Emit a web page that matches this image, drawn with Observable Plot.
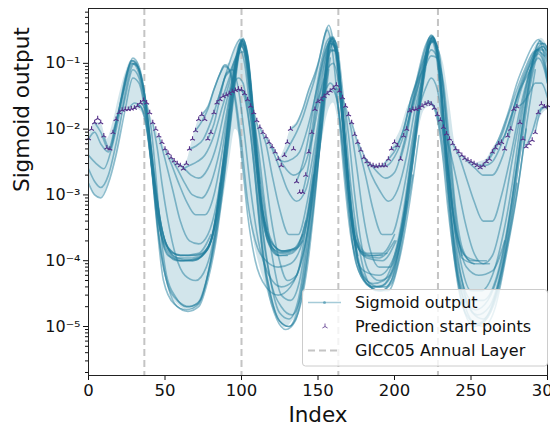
<!DOCTYPE html>
<html><head><meta charset="utf-8">
<script src="https://cdn.jsdelivr.net/npm/d3@7"></script>
<script src="https://cdn.jsdelivr.net/npm/@observablehq/plot@0.6"></script>
<style>html,body{margin:0;padding:0;background:#fff;} #chart{width:550px;height:425px;overflow:hidden;}</style>
</head><body><div id="chart"></div>
<script>
// ---- data ----
const xTicks = [0, 50, 100, 150, 200, 250, 300];
const yMajor = [1e-5, 1e-4, 1e-3, 1e-2, 1e-1];
const yMajorLabels = ["10⁻⁵", "10⁻⁴", "10⁻³", "10⁻²", "10⁻¹"];
const layerIdx = [36.5, 100, 163.3, 228.4]; // GICC05 annual layers
const startStep = 2; // prediction start points every 2 indices from 0
const startValues = [0.0072,0.01,0.0126,0.0145,0.0126,0.0079,0.0052,0.005,0.0089,0.0141,
0.0178,0.0195,0.02,0.02,0.0204,0.0209,0.0224,0.0251,0.0275,0.0251,
0.0178,0.0126,0.01,0.0079,0.0063,0.005,0.0043,0.0037,0.0033,0.003,
0.0028,0.0025,0.003,0.005,0.0071,0.0095,0.0141,0.0166,0.0141,0.0071,
0.0089,0.0178,0.0251,0.0282,0.0316,0.0331,0.0347,0.0372,0.0389,0.0407,
0.0398,0.0347,0.0282,0.0224,0.0178,0.0135,0.0107,0.0089,0.0076,0.0063,
0.0054,0.0045,0.0035,0.0028,0.004,0.0063,0.01,0.005,0.0016,0.0011,
0.0011,0.002,0.0045,0.0089,0.02,0.0263,0.0282,0.0316,0.0347,0.038,
0.0417,0.0468,0.038,0.0302,0.0224,0.0166,0.0126,0.0083,0.0063,0.0048,
0.0037,0.0032,0.0029,0.0028,0.0027,0.0028,0.0028,0.0028,0.0035,0.005,
0.0063,0.0056,0.0035,0.0079,0.01,0.019,0.02,0.02,0.0209,0.0224,
0.024,0.0251,0.024,0.0209,0.0166,0.0138,0.0107,0.0085,0.0071,0.006,
0.005,0.0045,0.004,0.0036,0.0034,0.0032,0.003,0.0028,0.0026,0.0028,
0.0032,0.0035,0.0045,0.0052,0.006,0.0063,0.005,0.0079,0.01,0.02,
0.0219,0.0126,0.0071,0.0054,0.006,0.0068,0.0089,0.0178,0.024,0.0219,
0.0229];

// pale band of overlapping outputs (every 4 indices from 0)
const envStep = 4;
const envLow = [1.6e-3,1e-3,9e-4,1.3e-3,2.5e-3,6e-3,2e-2,2e-2,2e-2,1.6e-2,
4e-3,5e-4,1e-4,4e-5,2.5e-5,2e-5,1.8e-5,1.8e-5,2e-5,3.5e-5,
8e-5,2.5e-4,8e-4,3e-3,1e-2,6e-3,8e-4,2e-4,8e-5,4e-5,
2e-5,1.3e-5,9.5e-6,1.1e-5,1.6e-5,4e-5,2e-4,1e-3,5e-3,1.6e-2,
2.5e-2,1e-2,1.6e-3,3e-4,1e-4,5.6e-5,4.2e-5,3.8e-5,3.8e-5,4e-5,
6.3e-5,1.6e-4,6.3e-4,2.5e-3,1e-2,2e-2,2.2e-2,1.3e-2,3e-3,5e-4,
8e-5,2.5e-5,1.4e-5,1.05e-5,1e-5,1.2e-5,1.8e-5,3.2e-5,8e-5,4e-4,
1.3e-3,5e-3,6.3e-3,1e-2,1.6e-2,2e-2];
const envHigh = [7.2e-3,1.26e-2,1.26e-2,7e-3,1.26e-2,3.2e-2,7e-2,1.1e-1,1.05e-1,5e-2,
1.8e-2,1e-2,6.3e-3,4.3e-3,3.3e-3,2.8e-3,3.2e-3,7e-3,1.4e-2,1.8e-2,
2.5e-2,5e-2,9e-2,1e-1,1.6e-1,2.5e-1,1.3e-1,1.8e-2,1.07e-2,7.6e-3,
5.4e-3,3.5e-3,5e-3,1e-2,1.26e-2,2e-2,4e-2,7e-2,1.26e-1,3.5e-1,
2.4e-1,8e-2,2.2e-2,1.26e-2,6.3e-3,3.7e-3,3e-3,2.8e-3,2.8e-3,3.5e-3,
6.3e-3,1e-2,2e-2,3.2e-2,7e-2,1.6e-1,2.7e-1,1.8e-1,1e-1,2.5e-2,
5.6e-3,4e-3,3.4e-3,3e-3,3.2e-3,3.5e-3,5e-3,7e-3,1.26e-2,2e-2,
3.5e-2,6.3e-2,1.1e-1,1.8e-1,2.4e-1,1.8e-1];

// individual sigmoid-output predictions: [index, value] knots
const curvesP0 = [
[[0,7e-3],[4,9e-3],[8,6e-3],[13,4.5e-3],[18,1.2e-2],[23,4e-2],[28,1.1e-1],[31,1e-1],[35,5e-2],[39,1.2e-2],[43,2e-3],[47,4e-4],[52,1.6e-4],[60,1.2e-4],[70,1.2e-4],[78,1.6e-4],[84,5e-4],[89,4e-3]],
[[0,4e-3],[5,3e-3],[10,2.5e-3],[15,5e-3],[20,1.6e-2],[25,6e-2],[29,1e-1],[33,7e-2],[37,2.5e-2],[41,4e-3],[45,7e-4],[50,2e-4],[58,1.1e-4],[68,1.1e-4],[77,1.4e-4],[83,4e-4],[88,3e-3]],
[[0,2.5e-3],[4,1.6e-3],[8,1.3e-3],[13,2e-3],[18,6e-3],[24,3e-2],[29,8e-2],[33,6e-2],[37,2e-2],[41,3e-3],[45,5e-4],[51,1.5e-4],[60,1e-4],[70,1.05e-4],[80,2e-4],[86,1.5e-3]],
[[0,1.5e-3],[4,1e-3],[8,9e-4],[13,1.5e-3],[18,4e-3],[24,2e-2],[29,6e-2],[33,5e-2],[37,1.8e-2],[41,3e-3],[45,5e-4],[50,1.8e-4],[60,1.2e-4],[72,1.3e-4],[80,2.5e-4]],
[[4,1.26e-2],[8,9e-3],[13,5e-3],[18,1.3e-2],[23,4e-2],[28,1e-1],[32,9e-2],[36,4e-2],[40,8e-3],[44,1.2e-3],[48,3e-4],[55,1.3e-4],[65,1.2e-4],[75,1.3e-4],[82,3e-4],[87,2e-3],[92,2e-2]],
[[10,7.9e-3],[14,5e-3],[19,1.5e-2],[24,6e-2],[29,1.1e-1],[33,8e-2],[37,3e-2],[41,5e-3],[45,8e-4],[50,2e-4],[58,1.1e-4],[68,1e-4],[78,1.5e-4],[84,5e-4],[89,4e-3],[94,4e-2],[98,1.5e-1]],
[[16,8.9e-3],[20,2e-2],[25,7e-2],[29,1.2e-1],[33,9e-2],[37,3e-2],[41,4e-3],[45,6e-4],[50,1.5e-4],[58,1e-4],[68,1e-4],[78,1.6e-4],[84,6e-4],[89,5e-3],[94,5e-2],[99,2e-1],[102,1.5e-1]],
[[22,1.95e-2],[26,6e-2],[30,1e-1],[34,7e-2],[38,2e-2],[42,2.5e-3],[46,4e-4],[52,1.2e-4],[62,1e-4],[72,1.1e-4],[80,2e-4],[86,1.2e-3],[91,1e-2],[96,9e-2],[100,2.3e-1],[103,1.3e-1],[107,1.5e-2]]
];
const curvesP1 = [
[[26,2e-2],[30,2.5e-2],[34,2.2e-2],[38,1e-2],[42,2e-3],[46,2.5e-4],[51,5e-5],[58,2.5e-5],[66,2e-5],[73,2.5e-5],[79,8e-5],[84,4e-4],[89,3e-3],[94,3e-2],[98,1.5e-1],[101,2.4e-1],[104,1.2e-1],[108,1.2e-2]],
[[30,2.1e-2],[33,2.3e-2],[37,1.5e-2],[41,3e-3],[45,3e-4],[49,5e-5],[56,2.2e-5],[64,1.8e-5],[72,2.2e-5],[78,6e-5],[84,3e-4],[89,2.5e-3],[94,2.5e-2],[98,1.3e-1],[101,2.3e-1],[104,1.3e-1],[108,1.5e-2],[112,1.5e-3]],
[[34,2.5e-2],[37,2e-2],[40,6e-3],[43,1e-3],[47,1.5e-4],[52,4e-5],[58,2e-5],[65,1.7e-5],[72,2e-5],[78,5e-5],[84,2.5e-4],[89,2e-3],[94,2e-2],[98,1.2e-1],[101,2.3e-1],[104,1.4e-1],[108,1.8e-2],[112,2e-3],[117,3e-4]],
[[38,2.5e-2],[41,1e-2],[44,2e-3],[47,3e-4],[51,6e-5],[57,2.8e-5],[64,2e-5],[71,2.2e-5],[77,5e-5],[83,2.5e-4],[88,1.5e-3],[93,1.5e-2],[97,1e-1],[100,2.2e-1],[104,1.3e-1],[108,1.5e-2],[112,1.5e-3],[117,2.5e-4],[124,1.2e-4]],
[[42,1.26e-2],[45,5e-3],[48,1.5e-3],[52,4e-4],[57,1.2e-4],[63,6e-5],[70,5e-5],[77,8e-5],[83,3e-4],[88,2e-3],[93,2e-2],[97,1e-1],[100,2e-1],[104,1.1e-1],[108,1.2e-2],[112,1.2e-3],[117,2e-4],[124,1.2e-4],[130,1.2e-4]],
[[46,7.9e-3],[50,3.5e-3],[55,1.2e-3],[60,4e-4],[66,2e-4],[72,1.8e-4],[78,2.5e-4],[84,8e-4],[89,5e-3],[94,4e-2],[98,1.5e-1],[101,2.2e-1],[105,8e-2],[109,7e-3],[113,8e-4],[118,2e-4],[125,1.3e-4],[132,1.4e-4]],
[[50,5e-3],[54,3e-3],[59,1.5e-3],[64,8e-4],[70,5e-4],[76,5e-4],[82,1e-3],[87,4e-3],[92,2.5e-2],[97,1.2e-1],[101,2e-1],[105,7e-2],[109,6e-3],[113,6e-4],[118,1.8e-4],[125,1.2e-4],[133,1.3e-4],[140,2e-4]],
[[54,3.7e-3],[58,2.5e-3],[63,1.5e-3],[68,1e-3],[74,9e-4],[80,1.5e-3],[86,5e-3],[92,3e-2],[97,1.3e-1],[100,2.2e-1],[104,1e-1],[108,1e-2],[112,1e-3],[118,2.5e-4],[126,1.4e-4],[134,1.5e-4],[140,2.5e-4]],
[[58,3e-3],[62,2.6e-3],[67,2e-3],[72,1.8e-3],[78,2.5e-3],[84,6e-3],[89,2e-2],[94,6e-2],[98,1.5e-1],[101,1.9e-1],[105,6e-2],[109,5e-3],[114,5e-4],[120,1.8e-4],[128,1.4e-4],[136,1.6e-4],[142,4e-4]],
[[62,2.5e-3],[66,2.8e-3],[71,3.2e-3],[76,4e-3],[82,8e-3],[87,2e-2],[92,5e-2],[96,1.1e-1],[100,1.8e-1],[104,8e-2],[108,8e-3],[113,7e-4],[119,2e-4],[127,1.4e-4],[135,1.5e-4],[142,4e-4],[147,2e-3]],
[[66,5e-3],[70,5.5e-3],[75,7e-3],[80,1.3e-2],[85,3e-2],[89,6e-2],[93,8e-2],[97,1.3e-1],[101,1.5e-1],[105,4e-2],[109,4e-3],[114,4e-4],[121,1.5e-4],[129,1.3e-4],[137,1.6e-4],[144,6e-4],[149,4e-3]],
[[70,9.5e-3],[74,1.3e-2],[78,2e-2],[82,4e-2],[86,7e-2],[89,9e-2],[92,8e-2],[96,3e-2],[100,6e-3],[104,8e-4],[109,2e-4],[116,1e-4],[124,8e-5],[132,9e-5],[140,2e-4],[147,1.5e-3],[152,1.2e-2]],
[[74,1.66e-2],[78,2.2e-2],[82,4e-2],[86,7e-2],[89,9.5e-2],[92,8e-2],[96,2.5e-2],[100,4e-3],[104,5e-4],[109,1e-4],[116,4e-5],[124,3e-5],[132,4e-5],[140,1.2e-4],[147,1e-3],[153,1.2e-2],[157,8e-2]],
[[78,7.1e-3],[82,1.2e-2],[86,3e-2],[90,7e-2],[94,8e-2],[98,4e-2],[102,8e-3],[106,1.2e-3],[111,2e-4],[118,6e-5],[126,4e-5],[134,5e-5],[142,2e-4],[148,2e-3],[154,3e-2],[158,1.2e-1]]
];
const curvesP2 = [
[[84,2.5e-2],[88,5e-2],[92,1e-1],[96,1.8e-1],[99,2.3e-1],[102,1.5e-1],[106,3e-2],[110,2.5e-3],[114,2.5e-4],[119,5e-5],[126,2e-5],[133,1.5e-5],[140,4e-5],[146,4e-4],[152,8e-3],[157,1.2e-1],[160,2e-1],[164,5e-2]],
[[88,3.2e-2],[92,6e-2],[96,1.2e-1],[99,1.6e-1],[102,1e-1],[106,1.5e-2],[110,1.5e-3],[114,1.5e-4],[119,3e-5],[125,1.2e-5],[131,1e-5],[137,1.6e-5],[143,8e-5],[149,1.5e-3],[154,3e-2],[158,1.6e-1],[162,1.5e-1],[166,1.5e-2]],
[[92,3.5e-2],[95,5e-2],[98,6e-2],[101,5e-2],[104,2e-2],[108,3e-3],[112,3e-4],[117,4e-5],[123,1.3e-5],[129,9e-6],[135,1.2e-5],[141,5e-5],[147,7e-4],[153,1.5e-2],[158,1.5e-1],[162,1.6e-1],[166,2e-2],[170,1.5e-3]],
[[96,3.9e-2],[99,4e-2],[102,3e-2],[106,8e-3],[110,1e-3],[114,1.2e-4],[119,3e-5],[125,1.2e-5],[131,1e-5],[137,2e-5],[143,1.5e-4],[149,3e-3],[154,4e-2],[158,2e-1],[162,1.5e-1],[166,1.5e-2],[170,1.2e-3]],
[[100,4e-2],[103,3e-2],[106,1.5e-2],[110,2.5e-3],[114,3e-4],[119,5e-5],[125,1.6e-5],[131,1.3e-5],[137,2.5e-5],[143,2e-4],[149,4e-3],[154,5e-2],[158,2.2e-1],[162,1.5e-1],[166,1.2e-2],[170,1e-3],[175,1.5e-4]],
[[104,2.8e-2],[107,1.8e-2],[111,5e-3],[115,8e-4],[120,1.2e-4],[126,3e-5],[132,2.5e-5],[138,5e-5],[144,4e-4],[150,6e-3],[155,7e-2],[159,2.3e-1],[163,1e-1],[167,8e-3],[171,6e-4],[176,1.2e-4]],
[[108,1.8e-2],[111,1e-2],[115,2.5e-3],[119,5e-4],[124,1.2e-4],[130,5e-5],[136,6e-5],[142,3e-4],[148,3e-3],[153,3e-2],[157,1.5e-1],[161,2.2e-1],[165,4e-2],[169,2e-3],[174,2e-4],[181,1.2e-4]],
[[112,1.07e-2],[116,6e-3],[120,2e-3],[125,6e-4],[131,2.5e-4],[137,2.5e-4],[143,8e-4],[149,6e-3],[154,5e-2],[158,2e-1],[162,1.8e-1],[166,2e-2],[170,1.5e-3],[175,2e-4],[183,1.2e-4],[192,1.2e-4]],
[[116,7.6e-3],[120,5e-3],[125,2.5e-3],[130,1.2e-3],[136,8e-4],[142,1.2e-3],[148,6e-3],[153,4e-2],[157,1.8e-1],[160,2.4e-1],[164,7e-2],[168,5e-3],[172,4e-4],[178,1.4e-4],[186,1.2e-4],[195,1.3e-4]],
[[120,5.4e-3],[124,3.8e-3],[129,2.5e-3],[134,2e-3],[140,2.5e-3],[146,7e-3],[151,3e-2],[155,1.2e-1],[158,2.4e-1],[162,1.5e-1],[166,2e-2],[170,1.5e-3],[175,2.5e-4],[182,1.3e-4],[192,1.3e-4],[200,2.5e-4]],
[[124,3.5e-3],[128,3.2e-3],[133,3.5e-3],[138,4.5e-3],[143,1e-2],[148,3e-2],[152,8e-2],[155,1.6e-1],[158,2.2e-1],[162,1.4e-1],[166,1.5e-2],[170,1.2e-3],[175,2e-4],[182,1.1e-4],[192,1e-4],[201,2e-4]],
[[128,4e-3],[132,6e-3],[136,9e-3],[140,1.5e-2],[144,3e-2],[148,6e-2],[152,1.5e-1],[155,3e-1],[157,3.8e-1],[160,2.2e-1],[164,4e-2],[168,3e-3],[173,3e-4],[180,1.2e-4],[190,1.1e-4],[200,2e-4]],
[[132,1e-2],[136,1.2e-2],[140,2e-2],[144,4e-2],[148,7e-2],[151,1.2e-1],[154,2.5e-1],[156,3.2e-1],[159,1.8e-1],[163,2.5e-2],[167,2e-3],[172,2e-4],[180,7e-5],[190,6e-5],[200,1.2e-4],[208,8e-4]],
[[136,1.6e-3],[140,3e-3],[144,8e-3],[148,3e-2],[152,1e-1],[156,2.2e-1],[159,2.5e-1],[162,1.5e-1],[166,2e-2],[170,1.5e-3],[175,1.5e-4],[182,5e-5],[190,4e-5],[198,6e-5],[205,2.5e-4],[212,2e-3]],
[[140,1.1e-3],[144,3e-3],[148,1.5e-2],[152,6e-2],[156,1.6e-1],[159,2.4e-1],[162,2e-1],[166,4e-2],[170,3e-3],[175,3e-4],[181,6e-5],[188,3.5e-5],[196,3.5e-5],[203,1e-4],[210,8e-4],[216,8e-3]]
];
const curvesP3 = [
[[144,4.5e-3],[148,2e-2],[152,8e-2],[156,1.8e-1],[160,2.5e-1],[164,8e-2],[168,5e-3],[172,4e-4],[177,8e-5],[184,4e-5],[191,3.5e-5],[198,4.5e-5],[205,2e-4],[211,2e-3],[217,2.5e-2],[222,1.5e-1]],
[[148,2e-2],[152,4e-2],[156,8e-2],[160,1e-1],[164,4e-2],[168,4e-3],[172,4e-4],[177,8e-5],[184,4e-5],[191,3.5e-5],[198,5e-5],[205,3e-4],[211,3e-3],[217,3e-2],[222,1.8e-1],[226,2.2e-1]],
[[152,2.8e-2],[155,4e-2],[158,5e-2],[161,4e-2],[165,1e-2],[169,1e-3],[174,1.2e-4],[180,5e-5],[187,4e-5],[194,4e-5],[201,8e-5],[207,5e-4],[213,5e-3],[219,6e-2],[224,2.4e-1],[228,1.5e-1]],
[[156,3.5e-2],[159,4e-2],[162,3e-2],[165,1e-2],[169,1.2e-3],[173,1.5e-4],[178,6e-5],[185,4e-5],[192,4.2e-5],[199,8e-5],[206,5e-4],[212,5e-3],[218,5e-2],[223,2.2e-1],[227,2e-1],[231,3e-2]],
[[160,4.2e-2],[163,4e-2],[166,1.5e-2],[170,2e-3],[174,2e-4],[179,6e-5],[186,4.5e-5],[193,5e-5],[200,1.2e-4],[206,6e-4],[212,6e-3],[218,6e-2],[223,2.4e-1],[227,2e-1],[231,3e-2],[235,2e-3]],
[[164,3.8e-2],[167,2.5e-2],[170,8e-3],[174,1e-3],[178,2e-4],[183,7e-5],[190,5e-5],[197,6e-5],[204,2e-4],[210,1.5e-3],[216,2e-2],[221,1.2e-1],[225,2.6e-1],[229,1e-1],[233,8e-3],[238,6e-4]],
[[168,2.2e-2],[171,1.2e-2],[175,3e-3],[179,6e-4],[184,1.5e-4],[190,8e-5],[197,8e-5],[204,2.5e-4],[210,2e-3],[216,2e-2],[221,1.2e-1],[225,2.5e-1],[229,1e-1],[233,8e-3],[238,6e-4],[244,1.2e-4]],
[[172,1.26e-2],[176,6e-3],[181,2e-3],[186,6e-4],[192,2.5e-4],[198,2.5e-4],[204,7e-4],[210,4e-3],[216,3e-2],[221,1.3e-1],[225,2.5e-1],[229,8e-2],[233,6e-3],[238,5e-4],[244,1.1e-4],[252,9e-5]],
[[176,6.3e-3],[180,4e-3],[185,2e-3],[190,1.2e-3],[196,8e-4],[202,1.2e-3],[208,4e-3],[213,1.8e-2],[218,6e-2],[222,1.6e-1],[226,2.4e-1],[230,6e-2],[234,4e-3],[239,4e-4],[246,1.2e-4],[254,1e-4]],
[[180,3.7e-3],[184,3e-3],[189,2.2e-3],[194,1.8e-3],[200,2.2e-3],[206,6e-3],[212,2.5e-2],[217,7e-2],[221,1.5e-1],[225,2.2e-1],[229,1.5e-1],[233,2e-2],[237,1.5e-3],[242,2e-4],[250,1e-4],[260,1e-4]],
[[186,2.8e-3],[190,2.7e-3],[195,2.8e-3],[200,3.8e-3],[206,8e-3],[211,2e-2],[216,5e-2],[220,1e-1],[224,1.6e-1],[228,1.2e-1],[232,5e-2],[236,6e-3],[240,6e-4],[245,1.4e-4],[252,9e-5],[262,9e-5]],
[[192,2.8e-3],[196,3.5e-3],[201,5e-3],[206,1e-2],[211,3e-2],[216,6e-2],[220,9e-2],[224,1.3e-1],[228,1.2e-1],[232,4e-2],[236,4e-3],[241,3e-4],[247,8e-5],[255,6e-5],[264,7e-5],[272,2e-4]],
[[198,5e-3],[202,6e-3],[206,1e-2],[211,3e-2],[216,7e-2],[220,1.3e-1],[224,2.5e-1],[228,1.8e-1],[232,3e-2],[236,2e-3],[240,2e-4],[245,4e-5],[251,1.6e-5],[258,1.3e-5],[266,3e-5],[274,2e-4],[280,1.5e-3]]
];
const curvesP4 = [
[[204,3.5e-3],[208,8e-3],[212,2.5e-2],[216,7e-2],[220,1.6e-1],[224,2.7e-1],[228,1.5e-1],[232,1.5e-2],[236,1e-3],[240,1e-4],[245,2.5e-5],[251,1.2e-5],[258,1e-5],[266,2e-5],[273,1.2e-4],[280,1e-3],[286,1e-2]],
[[208,1e-2],[212,3e-2],[216,8e-2],[220,1.8e-1],[224,2.6e-1],[228,1.2e-1],[232,1e-2],[236,7e-4],[241,6e-5],[246,1.6e-5],[252,1e-5],[259,1.2e-5],[267,3e-5],[274,1.8e-4],[281,1.5e-3],[287,1.5e-2],[292,8e-2]],
[[212,2e-2],[216,5e-2],[220,1.2e-1],[224,2.2e-1],[228,1e-1],[232,8e-3],[236,5e-4],[241,5e-5],[247,1.5e-5],[254,1.1e-5],[262,1.6e-5],[270,7e-5],[277,6e-4],[283,6e-3],[289,5e-2],[294,1.6e-1]],
[[216,2.1e-2],[220,4e-2],[224,6e-2],[228,4e-2],[232,8e-3],[236,8e-4],[241,8e-5],[247,2.5e-5],[254,1.5e-5],[262,2e-5],[270,8e-5],[277,8e-4],[283,8e-3],[289,6e-2],[294,1.5e-1],[298,1.3e-1]],
[[220,2.4e-2],[223,2.6e-2],[227,1.8e-2],[231,5e-3],[235,6e-4],[240,8e-5],[246,2.5e-5],[253,1.8e-5],[261,2.5e-5],[269,8e-5],[276,6e-4],[282,6e-3],[288,5e-2],[293,1.6e-1],[297,1.8e-1],[300,1.3e-1]],
[[224,2.4e-2],[227,2e-2],[231,7e-3],[235,1.2e-3],[239,2e-4],[244,5e-5],[251,2.5e-5],[258,2.5e-5],[266,5e-5],[273,2.5e-4],[279,2e-3],[285,2e-2],[291,1.2e-1],[295,2.2e-1],[299,1.6e-1]],
[[228,1.7e-2],[231,1e-2],[235,2.5e-3],[239,4e-4],[244,8e-5],[250,3.5e-5],[257,3.5e-5],[264,6e-5],[271,2.5e-4],[277,1.5e-3],[283,1.5e-2],[289,8e-2],[294,2e-1],[298,2e-1],[300,1.6e-1]],
[[232,1.07e-2],[236,5e-3],[241,1.5e-3],[246,4e-4],[252,1.3e-4],[258,9e-5],[264,1.2e-4],[270,4e-4],[276,2.5e-3],[282,1.5e-2],[288,7e-2],[293,1.6e-1],[297,2e-1],[300,1.7e-1]],
[[238,6e-3],[242,4e-3],[247,1.8e-3],[252,8e-4],[258,4e-4],[264,4e-4],[270,1e-3],[276,4e-3],[282,2e-2],[288,7e-2],[293,1.5e-1],[297,1.8e-1],[300,1.5e-1]],
[[244,4e-3],[248,3.2e-3],[253,2.5e-3],[258,2e-3],[264,2e-3],[270,3.5e-3],[276,1e-2],[282,3.5e-2],[288,9e-2],[293,1.6e-1],[297,1.6e-1],[300,1.2e-1]],
[[250,3.2e-3],[254,2.9e-3],[259,2.8e-3],[264,3.2e-3],[270,6e-3],[276,1.5e-2],[282,4.5e-2],[287,9e-2],[292,1.5e-1],[296,1.7e-1],[300,1e-1]],
[[256,2.6e-3],[260,3.2e-3],[265,5e-3],[270,9e-3],[275,2e-2],[280,5e-2],[285,1e-1],[290,1.8e-1],[294,2.3e-1],[298,1.2e-1],[300,6e-2]],
[[262,3.5e-3],[266,5e-3],[270,8e-3],[275,1.8e-2],[280,4e-2],[285,8e-2],[290,1.4e-1],[294,1.6e-1],[298,1e-1],[300,6e-2]],
[[268,6e-3],[272,8e-3],[276,1.5e-2],[281,3.5e-2],[286,7e-2],[290,1.1e-1],[294,1.4e-1],[298,9e-2],[300,5e-2]],
[[274,7.9e-3],[278,2e-2],[282,4e-2],[286,6e-2],[290,9e-2],[294,1.2e-1],[298,8e-2],[300,5e-2]],
[[280,2.2e-2],[284,2.5e-2],[288,3.5e-2],[292,5e-2],[296,5e-2],[300,3e-2]],
[[286,5.4e-3],[290,9e-3],[294,1.8e-2],[298,2.2e-2],[300,2e-2]],
[[292,8.9e-3],[296,2e-2],[300,2.2e-2]]
];

// ---- build tables ----
const teal = "#1f7d9d";
const purple = "#553088";
const rows = [];
let cid = 0;
for (const group of [curvesP0, curvesP1, curvesP2, curvesP3, curvesP4]) {
  for (const c of group) { for (const [x, y] of c) rows.push({id: cid, x, y}); cid++; }
}
const starts = startValues.map((v, i) => ({x: i * startStep, y: v}));
const env = envLow.map((lo, i) => ({x: i * envStep, lo, hi: envHigh[i]}));

const yMinor = [];
for (const e of [1e-6, 1e-5, 1e-4, 1e-3, 1e-2, 1e-1]) for (let k = 2; k <= 9; k++) {
  const v = k * e; if (v >= 1.8e-6 && v <= 0.68) yMinor.push(v);
}
const triUp = {
  draw(ctx, size) {
    const r = Math.sqrt(size / Math.PI);
    ctx.moveTo(0, 0); ctx.lineTo(0, -r);
    ctx.moveTo(0, 0); ctx.lineTo(-r * 0.866, r * 0.5);
    ctx.moveTo(0, 0); ctx.lineTo(r * 0.866, r * 0.5);
  }
};

const plot = Plot.plot({
  width: 550, height: 425,
  marginLeft: 88, marginRight: 3, marginTop: 8, marginBottom: 50,
  style: {fontFamily: "DejaVu Sans", background: "white", color: "#111"},
  x: {domain: [0, 300]},
  y: {type: "log", domain: [1.8e-6, 0.682]},
  marks: [
    Plot.areaY(env, {x: "x", y1: "lo", y2: "hi", fill: teal, fillOpacity: 0.2, curve: "monotone-x", clip: true}),
    Plot.ruleX(layerIdx, {stroke: "#c4c4c4", strokeWidth: 2, strokeDasharray: "7,4"}),
    Plot.line(rows, {x: "x", y: "y", z: "id", stroke: teal, strokeOpacity: 0.5, strokeWidth: 1.6, curve: "monotone-x", clip: true}),
    Plot.dot(starts, {x: "x", y: "y", symbol: triUp, r: 2.8, stroke: purple, fill: "none", strokeWidth: 1.1}),
    Plot.axisX({ticks: xTicks, tickSize: 5, tickPadding: 4, fontSize: 16.5, label: null}),
    Plot.axisY({ticks: yMinor, tickSize: 3, tickFormat: () => "", label: null}),
    Plot.axisY({ticks: yMajor, tickSize: 5, tickPadding: 3, fontSize: 16, tickFormat: d => yMajorLabels[yMajor.indexOf(d)], label: null}),
    Plot.frame({stroke: "#222", strokeWidth: 1}),
    Plot.text(["Index"], {text: d => d, frameAnchor: "bottom", dy: 46, lineAnchor: "bottom", fontSize: 21.5}),
    Plot.text(["Sigmoid output"], {text: d => d, frameAnchor: "left", dx: -60, rotate: -90, lineAnchor: "bottom", fontSize: 21.5})
  ]
});
document.getElementById("chart").appendChild(plot);

// ---- legend ----
const svg = d3.select(plot);
const lg = svg.append("g").attr("font-family", "DejaVu Sans").attr("font-size", 16).attr("fill", "#111").attr("text-anchor", "start");
lg.append("rect").attr("x", 302.5).attr("y", 289.5).attr("width", 245).attr("height", 76.5).attr("rx", 3)
  .attr("fill", "white").attr("fill-opacity", 0.8).attr("stroke", "#cccccc");
lg.append("line").attr("x1", 308).attr("x2", 341).attr("y1", 302.5).attr("y2", 302.5)
  .attr("stroke", teal).attr("stroke-opacity", 0.4).attr("stroke-width", 1.3);
lg.append("circle").attr("cx", 324.5).attr("cy", 302.5).attr("r", 1.5).attr("fill", teal).attr("fill-opacity", 0.5);
lg.append("path").attr("d", "M325,326.5L325,323.5M325,326.5L322.4,328M325,326.5L327.6,328")
  .attr("stroke", purple).attr("fill", "none").attr("stroke-width", 1).attr("stroke-opacity", 0.8);
lg.append("line").attr("x1", 308).attr("x2", 341).attr("y1", 350.5).attr("y2", 350.5)
  .attr("stroke", "#c4c4c4").attr("stroke-width", 2).attr("stroke-dasharray", "7,4");
const labels = ["Sigmoid output", "Prediction start points", "GICC05 Annual Layer"];
labels.forEach((t, i) => lg.append("text").attr("x", 355).attr("y", 308 + i * 24).attr("text-anchor", "start").text(t));
</script></body></html>
